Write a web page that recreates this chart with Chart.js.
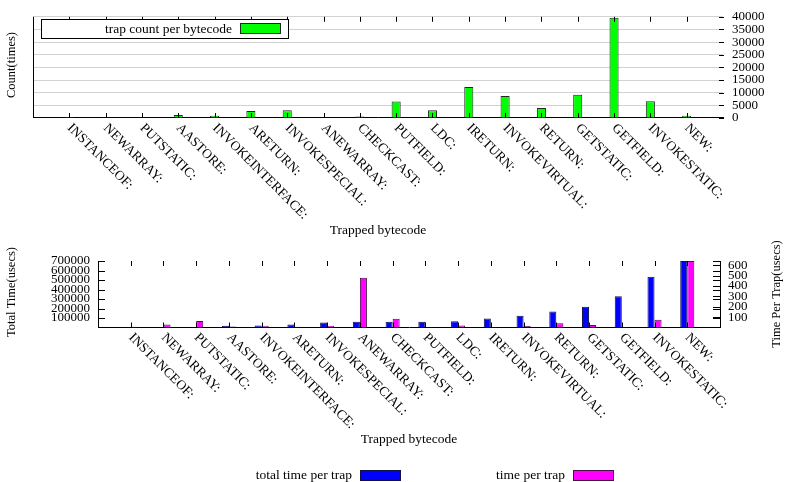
<!DOCTYPE html>
<html>
<head>
<meta charset="utf-8">
<script src="https://cdn.jsdelivr.net/npm/chart.js@4.4.1/dist/chart.umd.min.js"></script>
<style>
  body { margin: 0; background: #fff; }
  #wrap { position: relative; width: 785px; height: 482px; }
  canvas { position: absolute; left: 0; }
  #top { top: 0; }
  #bottom { top: 228px; }
</style>
</head>
<body>
<div id="wrap">
  <canvas id="top" width="785" height="240"></canvas>
  <canvas id="bottom" width="785" height="254"></canvas>
</div>
<script>
const codes = ["INSTANCEOF:", "NEWARRAY:", "PUTSTATIC:", "AASTORE:", "INVOKEINTERFACE:", "ARETURN:",
    "INVOKESPECIAL:", "ANEWARRAY:", "CHECKCAST:", "PUTFIELD:", "LDC:", "IRETURN:", "INVOKEVIRTUAL:",
    "RETURN:", "GETSTATIC:", "GETFIELD:", "INVOKESTATIC:", "NEW:"]

const counts = [40, 60, 50, 1150, 900, 2800, 3050, 120, 600, 6500, 3050, 12300, 8650, 3950, 9150, 39600, 6600, 900]
const totalTime = [2500, 1500, 3000, 17500, 21000, 31500, 52600, 59600, 59600, 59600, 66700, 94700, 122800, 168000, 217500, 330000, 533000, 700000]
const perTrap = [8, 30, 62, 10, 17, 8, 17, 479, 84, 4, 20, 4, 14, 40, 24, 5, 75, 641]

const countTicks = [0, 5000, 10000, 15000, 20000, 25000, 30000, 35000, 40000]
const timeTicks = [100000, 200000, 300000, 400000, 500000, 600000, 700000]
const perTrapTicks = [100, 200, 300, 400, 500, 600]

Chart.defaults.font.family = "'Liberation Serif', 'Times New Roman', serif"
Chart.defaults.font.size = 13
Chart.defaults.color = "#000"

const FONT = "13.5px 'Liberation Serif', serif"
const VFONT = "12.5px 'Liberation Serif', serif"

const points = (vals) => vals.map((v, i) => ({ x: i, y: v }))
const indexTicks = (s) => { s.ticks = codes.map((c, i) => ({ value: i })) }

// x axis shared by both panels: one empty slot left and right
const xAxis = {
    type: 'linear', min: -1, max: 18, offset: false,
    grid: { display: false, offset: false, drawTicks: false },
    border: { color: '#000' },
    ticks: { display: false },
    afterBuildTicks: indexTicks,
    afterFit(s) { s.height = 0 }
}

const line = (ctx, x1, y1, x2, y2) => {
    ctx.beginPath(); ctx.moveTo(x1, y1); ctx.lineTo(x2, y2); ctx.stroke()
}

// labels run down to the right from each tick, as in gnuplot
const drawCodes = (chart) => {
    const ctx = chart.ctx, x = chart.scales.x, b = chart.chartArea.bottom
    ctx.save()
    ctx.font = FONT
    ctx.fillStyle = '#000'
    codes.forEach((c, i) => {
        ctx.save()
        ctx.translate(x.getPixelForValue(i), b + 8)
        ctx.rotate(Math.PI / 4)
        ctx.textAlign = 'left'
        ctx.textBaseline = 'middle'
        ctx.fillText(c, 0, 0)
        ctx.restore()
    })
    ctx.restore()
}

const vText = (ctx, text, x, y) => {
    ctx.save()
    ctx.font = VFONT
    ctx.translate(x, y)
    ctx.rotate(-Math.PI / 2)
    ctx.textAlign = 'center'
    ctx.textBaseline = 'middle'
    ctx.fillText(text, 0, 0)
    ctx.restore()
}

const xTickMarks = (chart, len) => {
    const ctx = chart.ctx, a = chart.chartArea, x = chart.scales.x
    codes.forEach((c, i) => {
        const px = Math.round(x.getPixelForValue(i)) + 0.5
        line(ctx, px, a.bottom, px, a.bottom - len)
        line(ctx, px, a.top, px, a.top + len)
    })
}

const topDecor = {
    id: 'topDecor',
    afterDraw(chart) {
        const ctx = chart.ctx, a = chart.chartArea, y = chart.scales.y
        ctx.save()
        ctx.strokeStyle = '#000'
        ctx.lineWidth = 1
        line(ctx, a.left + 0.5, a.top, a.left + 0.5, a.bottom)
        xTickMarks(chart, 5)
        y.ticks.forEach(t => {
            const py = Math.round(y.getPixelForValue(t.value)) + 0.5
            line(ctx, a.right - 4, py, a.right + 1, py)
        })
        drawCodes(chart)
        ctx.font = FONT
        ctx.fillStyle = '#000'
        ctx.textAlign = 'center'
        ctx.textBaseline = 'middle'
        ctx.fillText('Trapped bytecode', 378, 230)
        vText(ctx, 'Count(times)', 12, 65)

        // legend box
        const ds = chart.data.datasets[0]
        ctx.fillStyle = '#fff'
        ctx.fillRect(41.5, 19.5, 247, 19)
        ctx.strokeRect(41.5, 19.5, 247, 19)
        ctx.fillStyle = '#000'
        ctx.textAlign = 'right'
        ctx.fillText(ds.label, 232, 29)
        ctx.fillStyle = ds.backgroundColor
        ctx.fillRect(240.5, 23.5, 40, 10)
        ctx.strokeStyle = ds.borderColor
        ctx.strokeRect(240.5, 23.5, 40, 10)
        ctx.restore()
    }
}

const bottomDecor = {
    id: 'bottomDecor',
    afterDraw(chart) {
        const ctx = chart.ctx, a = chart.chartArea, y = chart.scales.y, y2 = chart.scales.y2
        ctx.save()
        ctx.strokeStyle = '#000'
        ctx.lineWidth = 1
        xTickMarks(chart, 5)
        y.ticks.forEach(t => {
            const py = Math.round(y.getPixelForValue(t.value)) + 0.5
            line(ctx, a.left, py, a.left + 7, py)
            line(ctx, a.right - 7, py, a.right, py)
        })
        y2.ticks.forEach(t => {
            const py = Math.round(y2.getPixelForValue(t.value)) + 0.5
            line(ctx, a.right - 7, py, a.right, py)
        })
        drawCodes(chart)
        ctx.font = FONT
        ctx.fillStyle = '#000'
        ctx.textAlign = 'center'
        ctx.textBaseline = 'middle'
        ctx.fillText('Trapped bytecode', 409, 211)
        vText(ctx, 'Total Time(usecs)', 12, 64)
        vText(ctx, 'Time Per Trap(usecs)', 777, 66)

        // legend row under the plot
        const spots = [[352, 360], [565, 573]]
        chart.data.datasets.forEach((ds, k) => {
            const [tx, sx] = spots[k]
            ctx.fillStyle = '#000'
            ctx.textAlign = 'right'
            ctx.fillText(ds.label, tx, 247)
            ctx.fillStyle = ds.backgroundColor
            ctx.fillRect(sx + 0.5, 242.5, 40, 10)
            ctx.strokeStyle = ds.borderColor
            ctx.strokeRect(sx + 0.5, 242.5, 40, 10)
        })
        ctx.restore()
    }
}

const topChart = new Chart(document.getElementById('top'), {
    type: 'bar',
    data: {
        datasets: [{
            label: 'trap count per bytecode',
            data: points(counts),
            backgroundColor: '#00ff00',
            borderColor: '#1d2a1d',
            borderWidth: 1,
            categoryPercentage: 0.25,
            barPercentage: 1
        }]
    },
    options: {
        responsive: false,
        animation: false,
        layout: { padding: { left: 33, right: 0, top: 13, bottom: 122 } },
        plugins: { legend: { display: false }, tooltip: { enabled: false } },
        scales: {
            x: xAxis,
            y: {
                position: 'right', min: 0, max: 40000,
                afterBuildTicks(s) { s.ticks = countTicks.map(v => ({ value: v })) },
                ticks: { autoSkip: false, padding: 9, callback: v => String(v) },
                grid: { color: '#d2d2d2', drawTicks: false },
                border: { display: false },
                afterFit(s) { s.width = 62 }
            }
        }
    },
    plugins: [topDecor]
})

const bottomChart = new Chart(document.getElementById('bottom'), {
    type: 'bar',
    data: {
        datasets: [{
            label: 'total time per trap',
            data: points(totalTime),
            yAxisID: 'y',
            backgroundColor: '#0000ff',
            borderColor: '#10104a',
            borderWidth: 1,
            categoryPercentage: 0.43,
            barPercentage: 1
        }, {
            label: 'time per trap',
            data: points(perTrap),
            yAxisID: 'y2',
            backgroundColor: '#ff00ff',
            borderColor: '#4a104a',
            borderWidth: 1,
            categoryPercentage: 0.43,
            barPercentage: 1
        }]
    },
    options: {
        responsive: false,
        animation: false,
        layout: { padding: { left: 0, right: 0, top: 33, bottom: 154.5 } },
        plugins: { legend: { display: false }, tooltip: { enabled: false } },
        scales: {
            x: xAxis,
            y: {
                position: 'left', min: 0, max: 700000,
                afterBuildTicks(s) { s.ticks = timeTicks.map(v => ({ value: v })) },
                ticks: { autoSkip: false, padding: 8, callback: v => String(v) },
                grid: { display: false, drawTicks: false },
                border: { color: '#000' },
                afterFit(s) { s.width = 98 }
            },
            y2: {
                position: 'right', min: 0, max: 641,
                afterBuildTicks(s) { s.ticks = perTrapTicks.map(v => ({ value: v })) },
                ticks: { autoSkip: false, padding: 8, callback: v => String(v) },
                grid: { display: false, drawTicks: false },
                border: { color: '#000' },
                afterFit(s) { s.width = 65 }
            }
        }
    },
    plugins: [bottomDecor]
})
</script>
</body>
</html>
